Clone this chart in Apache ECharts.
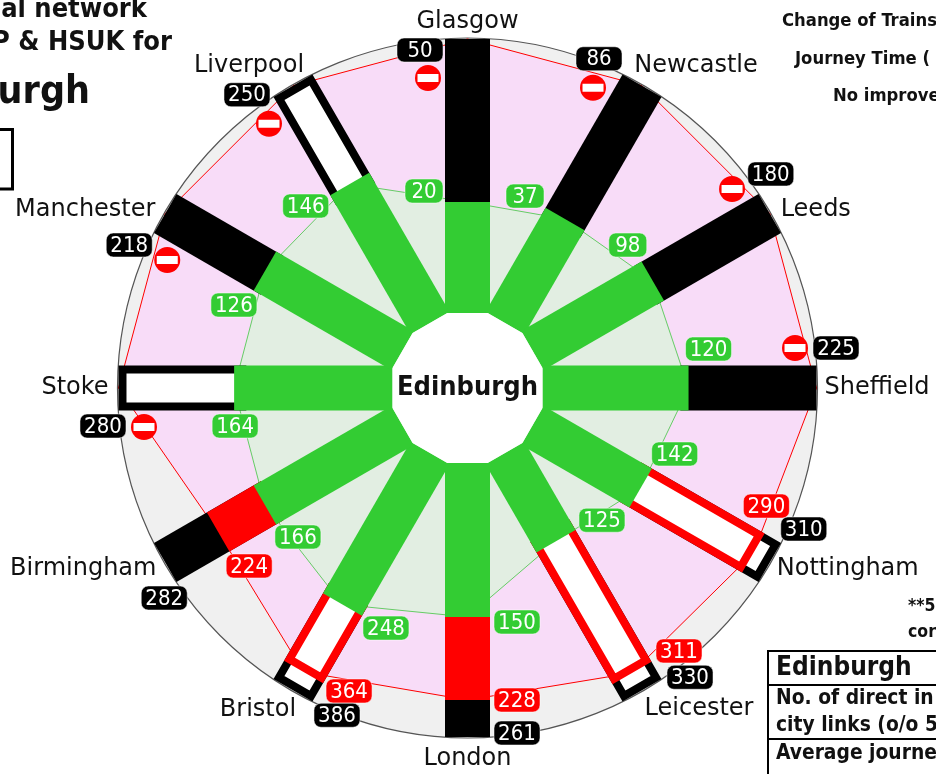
<!DOCTYPE html>
<html>
<head>
<meta charset="utf-8">
<style>
  html, body { margin: 0; padding: 0; background: #fff; overflow: hidden; }
  #chart { width: 936px; height: 774px; }
</style>
<script src="https://cdn.jsdelivr.net/npm/echarts@6/dist/echarts.min.js"></script>
</head>
<body>
<div id="chart"></div>
<script>
const categories = ["Glasgow", "Newcastle", "Leeds", "Sheffield", "Nottingham", "Leicester", "London", "Bristol", "Birmingham", "Stoke", "Manchester", "Liverpool"];

// numbers printed on the badges
const greenLabels = [20, 37, 98, 120, 142, 125, 150, 248, 166, 164, 126, 146];
const redLabels = [null, null, null, null, 290, 311, 228, 364, 224, null, null, null];
const blackLabels = [50, 86, 180, 225, 310, 330, 261, 386, 282, 280, 218, 250];

// how far along its spoke each segment ends (1 = outer ring)
const greenShare = [0.405, 0.438, 0.507, 0.533, 0.456, 0.372, 0.562, 0.639, 0.580, 0.578, 0.580, 0.586];
const redShare = [null, null, null, null, 0.931, 0.927, 0.865, 0.923, 0.777, null, null, null];
const blackShare = [1, 1, 1, 1, 1, 1, 1, 1, 1, 1, 1, 1];

const blackOpen = [0, 0, 0, 0, 1, 1, 0, 1, 0, 1, 0, 1];
const redOpen = [0, 0, 0, 0, 1, 1, 0, 1, 0, 0, 0, 0];
const noEntry = [1, 1, 1, 1, 0, 0, 0, 0, 0, 1, 1, 1];

// pixel offsets of the annotations from the point they belong to
const greenBadgeOffset = [[-43.5, -11], [-40, -23], [-25, -36], [20, -39], [34, -34], [46, -21], [49.5, 5], [43.5, 23.5], [33, 32], [1, 38], [-31, 34], [-44, 22]];
const redBadgeOffset = [null, null, null, null, [13, -47], [47, -22], [49.5, 0], [45.5, 19], [31, 34], null, null, null];
const blackBadgeOffset = [[-47.5, 11], [-43, -27], [1, -39.5], [19.5, -40], [34, -33.5], [48, -13], [49.5, -4], [44, 25], [-1, 35.5], [-15.5, 38], [-36, 31.5], [-46, 9]];
const noEntryOffset = [[-39.5, 39], [-49, 2], [-37.7, -24.5], [-21.5, -40], null, null, null, null, null, [25.5, 39], [2, 46.5], [-24, 38]];
const cityOffset = [[0, -17], [54, -20], [46, -3.5], [60.5, 0], [78, 6.5], [57, 19], [0, 22], [-35, 20], [-82, 6.5], [-43.5, 0], [-80, -3.5], [-44, -20]];

const FONT = '"DejaVu Sans", sans-serif';
const NARROW_FONT = '"DejaVu Sans Condensed", "DejaVu Sans", sans-serif';
const HUB = -0.2737; // radial value of the centre, leaves the white hub in the middle
const BAR_WIDTH = 45;
const GREEN = "#33cc33";
const RED = "#ff0000";

const rows = (values) => values.map((v, i) => [v, i]).filter((r) => r[0] !== null);

// one straight spoke bar, flat ends, built from the axis positions
function spokeBar(api, from, share, index, color, open, lineWidth) {
  const a = api.coord([from, index]);
  const b = api.coord([share, index]);
  const len = Math.hypot(b[0] - a[0], b[1] - a[1]);
  const ux = (b[0] - a[0]) / len;
  const uy = (b[1] - a[1]) / len;
  const inset = open ? lineWidth / 2 : 0;
  const half = BAR_WIDTH / 2 - inset;
  const ex = b[0] - ux * inset;
  const ey = b[1] - uy * inset;
  return {
    type: "polygon",
    shape: {
      points: [
        [a[0] - uy * half, a[1] + ux * half],
        [ex - uy * half, ey + ux * half],
        [ex + uy * half, ey - ux * half],
        [a[0] + uy * half, a[1] - ux * half]
      ]
    },
    style: open
      ? { fill: "#fff", stroke: color, lineWidth: lineWidth, lineJoin: "miter" }
      : { fill: color }
  };
}

// fromOf gives where a spoke's bar starts, the upper layers hide the rest of it
function barSeries(fromOf, values, color, openFlags, lineWidth, z) {
  return {
    type: "custom",
    coordinateSystem: "polar",
    silent: true,
    z: z,
    data: rows(values),
    renderItem: (params, api) => {
      const i = api.value(1);
      return spokeBar(api, fromOf(i), api.value(0), i, color, openFlags[i], lineWidth);
    }
  };
}

function polygonSeries(values, fill, stroke, z) {
  return {
    type: "custom",
    coordinateSystem: "polar",
    silent: true,
    z: z,
    data: rows(values),
    renderItem: (params, api) => {
      if (params.dataIndex !== 0) return null;
      return {
        type: "polygon",
        shape: { points: values.map((v, i) => api.coord([v, i])) },
        style: { fill: fill, stroke: stroke, lineWidth: 1 }
      };
    }
  };
}

function badgeSeries(shares, labels, offsets, color, z) {
  return {
    type: "custom",
    coordinateSystem: "polar",
    silent: true,
    z: z,
    data: rows(shares),
    renderItem: (params, api) => {
      const i = api.value(1);
      const p = api.coord([api.value(0), i]);
      const text = String(labels[i]);
      const w = color === GREEN && text.length < 3 ? 38 : 46;
      return {
        type: "group",
        x: p[0] + offsets[i][0],
        y: p[1] + offsets[i][1],
        children: [
          {
            type: "rect",
            shape: { x: -w / 2, y: -12, width: w, height: 24, r: 7 },
            style: { fill: color, stroke: "rgba(255,255,255,0.5)", lineWidth: 1 }
          },
          {
            type: "text",
            style: { text: text, x: 0, y: 1, align: "center", verticalAlign: "middle", fill: "#fff", font: "22px " + NARROW_FONT }
          }
        ]
      };
    }
  };
}

const noEntrySeries = {
  type: "custom",
  coordinateSystem: "polar",
  silent: true,
  z: 20,
  data: rows(blackShare.map((v, i) => (noEntry[i] ? v : null))),
  renderItem: (params, api) => {
    const i = api.value(1);
    const p = api.coord([api.value(0), i]);
    return {
      type: "group",
      x: p[0] + noEntryOffset[i][0],
      y: p[1] + noEntryOffset[i][1],
      children: [
        { type: "circle", shape: { cx: 0, cy: 0, r: 13 }, style: { fill: RED } },
        { type: "rect", shape: { x: -10.5, y: -4, width: 21, height: 8 }, style: { fill: "#fff" } }
      ]
    };
  }
};

const citySeries = {
  type: "custom",
  coordinateSystem: "polar",
  silent: true,
  z: 20,
  data: rows(blackShare),
  renderItem: (params, api) => {
    const i = api.value(1);
    const p = api.coord([api.value(0), i]);
    return {
      type: "text",
      style: {
        text: categories[i],
        x: p[0] + cityOffset[i][0],
        y: p[1] + cityOffset[i][1],
        align: "center",
        verticalAlign: "middle",
        fill: "#111",
        font: "24px " + FONT
      }
    };
  }
};

const discSeries = {
  type: "custom",
  coordinateSystem: "polar",
  silent: true,
  z: 1,
  data: [[1, 0]],
  renderItem: (params, api) => {
    const c = api.coord([HUB, 0]);
    const rim = api.coord([1.0036, 0]);
    return {
      type: "circle",
      shape: { cx: c[0], cy: c[1], r: c[1] - rim[1] },
      style: { fill: "#f0f0f0", stroke: "#555", lineWidth: 1.2 }
    };
  }
};

// white dodecagon in the middle: the flat sides are the inner ends of the bars
const hubSeries = {
  type: "custom",
  coordinateSystem: "polar",
  silent: true,
  z: 9,
  data: [[0, 0]],
  renderItem: (params, api) => {
    const c = api.coord([HUB, 0]);
    const pts = categories.map((name, i) => {
      const p = api.coord([0, i]);
      const q = api.coord([0, (i + 1) % categories.length]);
      const grow = 1 / (Math.cos(Math.PI / 12) * Math.cos(Math.PI / 12));
      return [
        c[0] + ((p[0] + q[0]) / 2 - c[0]) * grow,
        c[1] + ((p[1] + q[1]) / 2 - c[1]) * grow
      ];
    });
    return { type: "polygon", shape: { points: pts }, style: { fill: "#fff" } };
  }
};

function note(text, x, y, size, align) {
  return {
    type: "text",
    silent: true,
    z: 30,
    style: {
      text: text,
      x: x,
      y: y + 2,
      align: align,
      verticalAlign: "middle",
      fill: "#111",
      font: "bold " + size + "px " + NARROW_FONT
    }
  };
}

function rule(points, width) {
  return {
    type: "polyline",
    silent: true,
    z: 30,
    shape: { points: points },
    style: { stroke: "#000", lineWidth: width, fill: null }
  };
}

const pinkRadius = blackShare.map((v, i) => (redShare[i] !== null ? redShare[i] : v));
const underGreen = (i) => greenShare[i] - 0.03;

const chart = echarts.init(document.getElementById("chart"), null, { renderer: "canvas" });
chart.setOption({
  animation: false,
  backgroundColor: "#fff",
  polar: { center: [467.5, 388], radius: 350 },
  radiusAxis: {
    type: "value",
    min: HUB,
    max: 1.0036,
    axisLine: { show: false },
    axisTick: { show: false },
    axisLabel: { show: false },
    splitLine: { show: false }
  },
  angleAxis: {
    type: "category",
    data: categories,
    boundaryGap: false,
    startAngle: 90,
    axisLine: { show: false },
    axisTick: { show: false },
    axisLabel: { show: false },
    splitLine: { show: false }
  },
  series: [
    discSeries,
    polygonSeries(pinkRadius, "#f8dcf8", RED, 2),
    polygonSeries(greenShare, "#e2eee2", "#66cc66", 3),
    barSeries(underGreen, blackShare, "#000", blackOpen, 8, 4),
    barSeries(underGreen, redShare, RED, redOpen, 8, 5),
    barSeries(() => 0, greenShare, GREEN, greenShare.map(() => 0), 0, 6),
    hubSeries,
    noEntrySeries,
    citySeries,
    badgeSeries(greenShare, greenLabels, greenBadgeOffset, GREEN, 21),
    badgeSeries(redShare, redLabels, redBadgeOffset, RED, 21),
    badgeSeries(blackShare, blackLabels, blackBadgeOffset, "#000", 21)
  ],
  graphic: [
    note("Edinburgh", 467.5, 386, 27, "center"),
    note("al network", 147, 8, 27, "right"),
    note("P & HSUK for", 172, 41, 27, "right"),
    note("urgh", 90, 91, 39, "right"),
    rule([[0, 129.5], [12.5, 129.5], [12.5, 189], [0, 189]], 3),
    note("Change of Trains", 782, 19, 18.3, "left"),
    note("Journey Time (", 795, 57, 18.3, "left"),
    note("No improve", 833, 94, 18.3, "left"),
    note("**5", 908, 604, 17.5, "left"),
    note("cor", 908, 630, 17.5, "left"),
    rule([[936, 651], [768, 651], [768, 774]], 2),
    rule([[768, 685], [936, 685]], 2),
    rule([[768, 739], [936, 739]], 2),
    note("Edinburgh", 776, 666, 26, "left"),
    note("No. of direct in", 776, 697, 20.8, "left"),
    note("city links (o/o 5", 776, 724, 20.8, "left"),
    note("Average journe", 776, 752, 20.8, "left")
  ]
});
</script>
</body>
</html>
